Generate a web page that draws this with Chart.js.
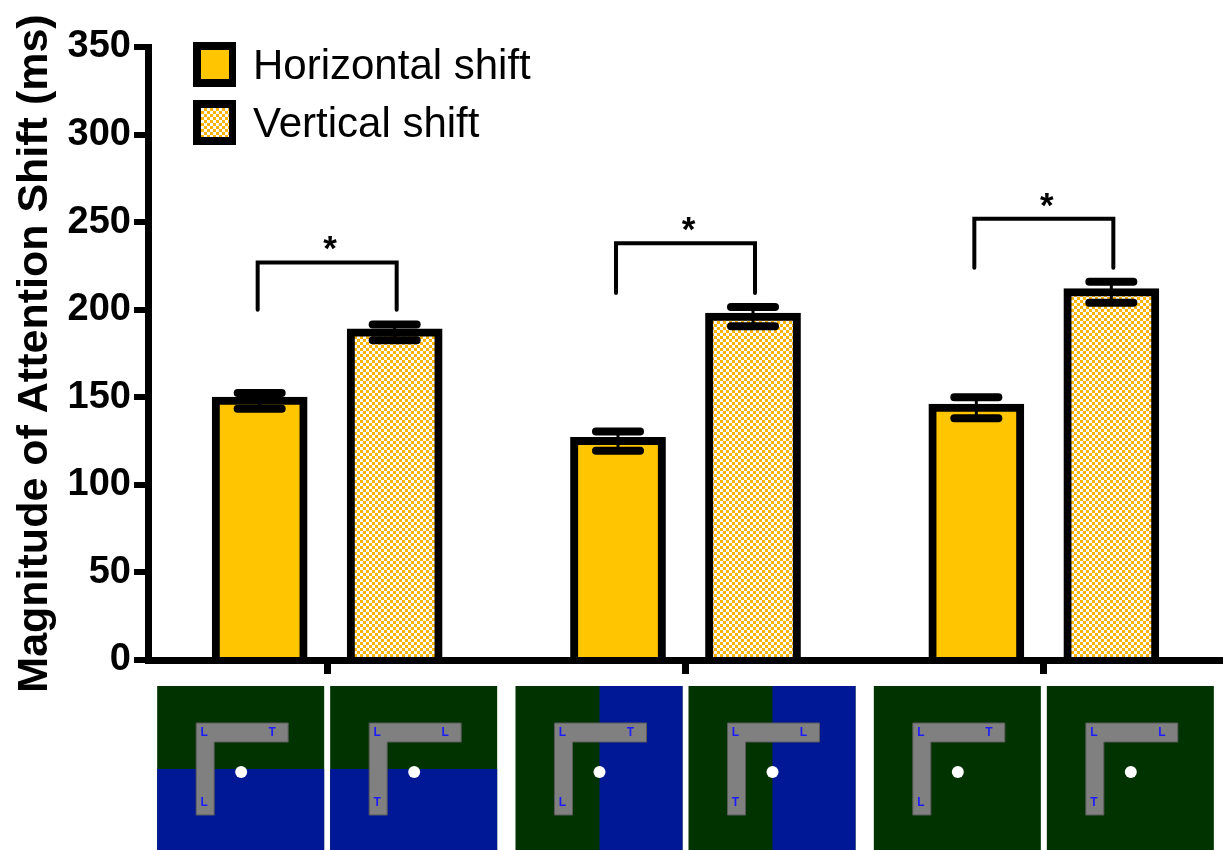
<!DOCTYPE html>
<html>
<head>
<meta charset="utf-8">
<script src="https://cdn.jsdelivr.net/npm/chart.js@4.4.0/dist/chart.umd.min.js"></script>
<style>
    html, body { margin: 0; padding: 0; background: #fff; }
</style>
</head>
<body>
<canvas id="chart-shift" width="1223" height="850"></canvas>
<script>
// Groups (one stimulus picture pair under each group)
const categories = ['Horizontal split', 'Vertical split', 'No split'];
const seriesNames = ['Horizontal shift', 'Vertical shift'];

// Means and error (ms)
const horizontalShift = [148, 125, 144];
const horizontalErr = [4.5, 5.5, 6];
const verticalShift = [187, 196, 210];
const verticalErr = [4.5, 5.5, 6];

// Y axis
const yMin = 0;
const yMax = 350;
const yStep = 50;

// Significance brackets (ms)
const sigTop = [227, 238, 252];
const sigLegEnd = [200, 209.5, 224];
const sigLabel = ['*', '*', '*'];

// Stimulus pictures
const panelSplit = ['horizontal', 'vertical', 'none'];
const lettersHorizontal = ['L', 'T', 'L']; // corner, right end, bottom end
const lettersVertical = ['L', 'L', 'T'];

Chart.defaults.font.family = '"Liberation Sans", Arial, Helvetica, sans-serif';
Chart.defaults.color = '#000';

const ctx = document.getElementById('chart-shift').getContext('2d');

// checker fill for the vertical shift bars
function checkerPattern() {
    const c = document.createElement('canvas');
    c.width = 6;
    c.height = 6;
    const g = c.getContext('2d');
    g.fillStyle = '#ffffff';
    g.fillRect(0, 0, 6, 6);
    g.fillStyle = '#FFB400';
    g.fillRect(0, 0, 3, 3);
    g.fillRect(3, 3, 3, 3);
    return ctx.createPattern(c, 'repeat');
}
const checker = checkerPattern();

function line(c, x1, y1, x2, y2) {
    c.beginPath();
    c.moveTo(x1, y1);
    c.lineTo(x2, y2);
    c.stroke();
}

const errorBars = {
    id: 'errorBars',
    afterDatasetsDraw(chart) {
        const c = chart.ctx;
        const y = chart.scales.y;
        [horizontalErr, verticalErr].forEach((errs, di) => {
            const vals = chart.data.datasets[di].data;
            chart.getDatasetMeta(di).data.forEach((bar, i) => {
                const hi = y.getPixelForValue(vals[i] + errs[i]);
                const lo = y.getPixelForValue(vals[i] - errs[i]);
                c.save();
                c.strokeStyle = '#000';
                c.lineCap = 'round';
                c.lineWidth = 3;
                line(c, bar.x, hi, bar.x, lo);
                c.lineWidth = 8;
                line(c, bar.x - 22, hi, bar.x + 22, hi);
                line(c, bar.x - 22, lo, bar.x + 22, lo);
                c.restore();
            });
        });
    }
};

const annotations = {
    id: 'annotations',
    afterDraw(chart) {
        const c = chart.ctx;
        const x = chart.scales.x;
        const y = chart.scales.y;
        const h = chart.getDatasetMeta(0).data;
        const v = chart.getDatasetMeta(1).data;

        // significance brackets
        c.save();
        c.strokeStyle = '#000';
        c.lineWidth = 4;
        c.lineCap = 'round';
        c.lineJoin = 'miter';
        sigTop.forEach((top, i) => {
            const yt = y.getPixelForValue(top);
            const yb = y.getPixelForValue(sigLegEnd[i]);
            const x1 = h[i].x - 2;
            const x2 = v[i].x + 2;
            c.beginPath();
            c.moveTo(x1, yb);
            c.lineTo(x1, yt);
            c.lineTo(x2, yt);
            c.lineTo(x2, yb);
            c.stroke();
            c.fillStyle = '#000';
            c.font = 'bold 35px "Liberation Sans", Arial, sans-serif';
            c.textAlign = 'center';
            c.textBaseline = 'alphabetic';
            c.fillText(sigLabel[i], (x1 + x2) / 2 + 3, yt - 2);
        });
        c.restore();

        // legend
        c.save();
        chart.data.datasets.forEach((ds, i) => {
            const top = 42 + i * 58;
            c.fillStyle = '#000';
            c.fillRect(193, top, 43, 45);
            c.fillStyle = ds.backgroundColor;
            c.fillRect(201, top + 8, 28, 29);
            c.font = '42px "Liberation Sans", Arial, sans-serif';
            c.textAlign = 'left';
            c.textBaseline = 'alphabetic';
            c.fillStyle = '#000';
            c.fillText(ds.label, 253, top + 37);
        });
        c.restore();

        // stimulus pictures
        const green = '#003300';
        const blue = '#001896';
        categories.forEach((cat, i) => {
            const cx = x.getPixelForValue(i);
            [[cx - 170, lettersHorizontal], [cx + 3, lettersVertical]].forEach(([x0, letters]) => {
                const y0 = 686;
                const w = 167;
                const ph = 164;
                c.save();
                c.fillStyle = green;
                c.fillRect(x0, y0, w, ph);
                c.fillStyle = blue;
                if (panelSplit[i] === 'horizontal') c.fillRect(x0, y0 + 83, w, ph - 83);
                if (panelSplit[i] === 'vertical') c.fillRect(x0 + 84, y0, w - 84, ph);
                // gray L shape
                c.fillStyle = '#808080';
                c.strokeStyle = '#5a5a5a';
                c.lineWidth = 1;
                c.beginPath();
                c.moveTo(x0 + 39, y0 + 37);
                c.lineTo(x0 + 131, y0 + 37);
                c.lineTo(x0 + 131, y0 + 56);
                c.lineTo(x0 + 57, y0 + 56);
                c.lineTo(x0 + 57, y0 + 129);
                c.lineTo(x0 + 39, y0 + 129);
                c.closePath();
                c.fill();
                c.stroke();
                // fixation dot
                c.fillStyle = '#fff';
                c.beginPath();
                c.arc(x0 + 84, y0 + 86, 6, 0, Math.PI * 2);
                c.fill();
                // letters
                c.fillStyle = '#1c1cff';
                c.font = 'bold 12px "Liberation Sans", Arial, sans-serif';
                c.textAlign = 'center';
                c.textBaseline = 'middle';
                c.fillText(letters[0], x0 + 47, y0 + 47);
                c.fillText(letters[1], x0 + 115, y0 + 47);
                c.fillText(letters[2], x0 + 47, y0 + 117);
                c.restore();
            });
        });
    }
};

const chart = new Chart(ctx, {
    type: 'bar',
    data: {
        labels: categories,
        datasets: [
            {
                label: seriesNames[0],
                data: horizontalShift,
                backgroundColor: '#FFC600',
                borderColor: '#000',
                borderWidth: 8,
                inflateAmount: 4,
                categoryPercentage: 0.7535,
                barPercentage: 0.65,
            },
            {
                label: seriesNames[1],
                data: verticalShift,
                backgroundColor: checker,
                borderColor: '#000',
                borderWidth: 8,
                inflateAmount: 4,
                categoryPercentage: 0.7535,
                barPercentage: 0.65,
            },
        ]
    },
    options: {
        responsive: false,
        animation: false,
        layout: { padding: { top: 47, right: 0, bottom: 176, left: 0 } },
        plugins: {
            legend: { display: false },
            tooltip: { enabled: false }
        },
        scales: {
            x: {
                grid: { offset: false, drawOnChartArea: false, tickLength: 14, lineWidth: 7, color: '#000' },
                border: { color: '#000', width: 7, z: 1 },
                ticks: { display: false }
            },
            y: {
                min: yMin,
                max: yMax,
                ticks: {
                    stepSize: yStep,
                    padding: 3,
                    color: '#000',
                    font: { size: 38, weight: 'bold' }
                },
                grid: { drawOnChartArea: false, tickLength: 14, lineWidth: 6, color: '#000' },
                border: { color: '#000', width: 7, z: 1 },
                title: {
                    display: true,
                    text: 'Magnitude of Attention Shift (ms)',
                    color: '#000',
                    font: { size: 43, weight: 'bold', lineHeight: 1.2 },
                    padding: { top: 9, bottom: 0 }
                },
                afterFit(scale) { scale.width = 148; }
            }
        }
    },
    plugins: [errorBars, annotations]
});
</script>
</body>
</html>
